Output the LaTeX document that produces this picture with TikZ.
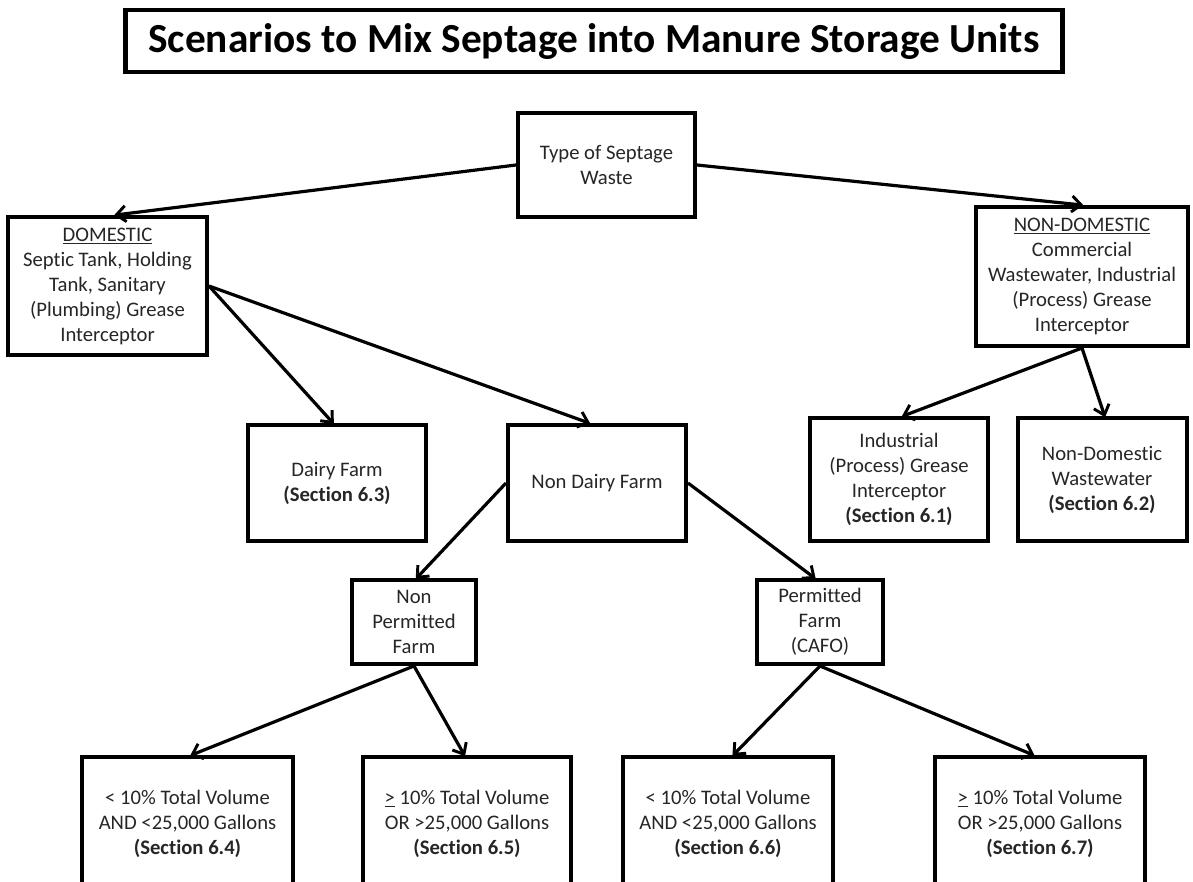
\documentclass[tikz,border=0pt]{standalone}
\usepackage{fontspec}
\setmainfont{Carlito}[Ligatures=NoCommon]
\usetikzlibrary{arrows.meta}
\begin{document}
\begin{tikzpicture}[x=0.75pt,y=-0.75pt,
  box/.style={draw=black,line width=3pt,fill=white,align=center,inner sep=0pt,
    font=\fontsize{15.5}{18.75}\selectfont,text=black!85},
  conn/.style={line width=2.4pt,-{Straight Barb[length=7pt,width=12pt,line width=2.2pt]},shorten >=-1pt}]
\useasboundingbox (0,0) rectangle (1193,882);
\clip (0,0) rectangle (1193,882);
\fill[white] (0,0) rectangle (1193,882);
% title
\node[box,line width=3.5pt,minimum width=937*0.75pt,minimum height=62*0.75pt,
  font=\fontsize{31}{34}\selectfont\bfseries,text=black] (title) at (594,41)
  {Scenarios to Mix Septage into Manure Storage Units};
% level 1
\node[box,minimum width=177*0.75pt,minimum height=104*0.75pt] (type) at (606.5,165)
  {Type of Septage\\Waste};
\node[box,minimum width=199*0.75pt,minimum height=138*0.75pt] (dom) at (107.5,286)
  {\underline{DOMESTIC}\\Septic Tank, Holding\\Tank, Sanitary\\(Plumbing) Grease\\Interceptor};
\node[box,minimum width=212*0.75pt,minimum height=139*0.75pt] (nondom) at (1082,276.5)
  {\underline{NON-DOMESTIC}\\Commercial\\Wastewater, Industrial\\(Process) Grease\\Interceptor};
% level 2
\node[box,minimum width=178*0.75pt,minimum height=116*0.75pt] (dairy) at (337,483)
  {Dairy Farm\\\textbf{(Section 6.3)}};
\node[box,minimum width=178*0.75pt,minimum height=116*0.75pt] (nondairy) at (597,483)
  {Non Dairy Farm};
\node[box,minimum width=178*0.75pt,minimum height=123*0.75pt] (indus) at (899,479.5)
  {Industrial\\(Process) Grease\\Interceptor\\\textbf{(Section 6.1)}};
\node[box,minimum width=169*0.75pt,minimum height=123*0.75pt] (ndww) at (1102,479.5)
  {Non-Domestic\\Wastewater\\\textbf{(Section 6.2)}};
% level 3
\node[box,minimum width=124*0.75pt,minimum height=84*0.75pt] (nonperm) at (414,622)
  {Non\\Permitted\\Farm};
\node[box,minimum width=126*0.75pt,minimum height=84*0.75pt] (perm) at (820,622)
  {Permitted\\Farm\\(CAFO)};
% level 4
\node[box,minimum width=211*0.75pt,minimum height=133*0.75pt] (b64) at (187.5,823.5)
  {< 10\% Total Volume\\AND <25,000 Gallons\\\textbf{(Section 6.4)}};
\node[box,minimum width=208*0.75pt,minimum height=133*0.75pt] (b65) at (467,823.5)
  {\underline{>} 10\% Total Volume\\OR >25,000 Gallons\\\textbf{(Section 6.5)}};
\node[box,minimum width=210*0.75pt,minimum height=133*0.75pt] (b66) at (728,823.5)
  {< 10\% Total Volume\\AND <25,000 Gallons\\\textbf{(Section 6.6)}};
\node[box,minimum width=210*0.75pt,minimum height=133*0.75pt] (b67) at (1040,823.5)
  {\underline{>} 10\% Total Volume\\OR >25,000 Gallons\\\textbf{(Section 6.7)}};
% connectors
\draw[conn] (type.west) -- ([xshift=6pt]dom.north);
\draw[conn] (type.east) -- (nondom.north);
\draw[conn] (dom.east) -- ([xshift=-3pt]dairy.north);
\draw[conn] (dom.east) -- ([xshift=-6pt]nondairy.north);
\draw[conn] (nondom.south) -- ([xshift=3pt]indus.north);
\draw[conn] (nondom.south) -- ([xshift=2pt]ndww.north);
\draw[conn] (nondairy.west) -- ([xshift=2pt]nonperm.north);
\draw[conn] (nondairy.east) -- ([xshift=-4pt]perm.north);
\draw[conn] (nonperm.south) -- ([xshift=3pt]b64.north);
\draw[conn] (nonperm.south) -- ([xshift=-2pt]b65.north);
\draw[conn] (perm.south) -- ([xshift=4pt]b66.north);
\draw[conn] (perm.south) -- ([xshift=-5pt]b67.north);
\end{tikzpicture}
\end{document}
